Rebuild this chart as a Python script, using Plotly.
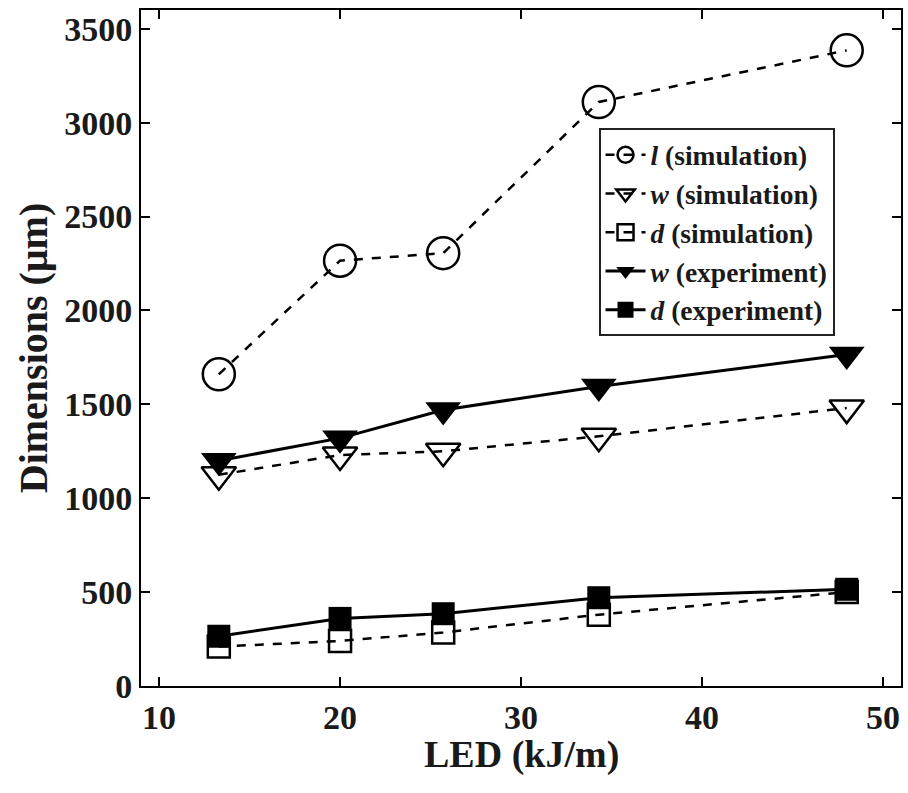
import plotly.graph_objects as go

led = [13.3, 20.0, 25.7, 34.3, 48.0]
l_sim = [1660, 2265, 2305, 3110, 3385]
w_sim = [1125, 1230, 1250, 1330, 1480]
d_sim = [210, 240, 285, 380, 500]
w_exp = [1200, 1320, 1470, 1595, 1765]
d_exp = [265, 360, 385, 470, 515]

x_ticks = [10, 20, 30, 40, 50]
y_ticks = [0, 500, 1000, 1500, 2000, 2500, 3000, 3500]

font_family = "Liberation Serif"
ink = "#1a1a1a"

fig = go.Figure()
fig.add_trace(go.Scatter(x=led, y=l_sim, mode="lines+markers", name="<i>l</i> (simulation)",
                         line=dict(color="black", width=2.5, dash="dash"),
                         marker=dict(symbol="circle-open", size=32, color="black", line=dict(width=2.5))))
fig.add_trace(go.Scatter(x=led, y=w_sim, mode="lines+markers", name="<i>w</i> (simulation)",
                         line=dict(color="black", width=2.5, dash="dash"),
                         marker=dict(symbol="triangle-down-open", size=30, color="black", line=dict(width=2.5))))
fig.add_trace(go.Scatter(x=led, y=d_sim, mode="lines+markers", name="<i>d</i> (simulation)",
                         line=dict(color="black", width=2.5, dash="dash"),
                         marker=dict(symbol="square-open", size=22, color="black", line=dict(width=2.5))))
fig.add_trace(go.Scatter(x=led, y=w_exp, mode="lines+markers", name="<i>w</i> (experiment)",
                         line=dict(color="black", width=3),
                         marker=dict(symbol="triangle-down", size=31, color="black")))
fig.add_trace(go.Scatter(x=led, y=d_exp, mode="lines+markers", name="<i>d</i> (experiment)",
                         line=dict(color="black", width=3),
                         marker=dict(symbol="square", size=23, color="black")))

axis_common = dict(showline=True, linecolor="black", linewidth=2, mirror="ticks",
                   ticks="inside", ticklen=9, tickwidth=1.5, tickcolor="black",
                   showgrid=False, zeroline=False,
                   tickfont=dict(family=font_family, size=34, color=ink, weight="bold"))

fig.update_layout(
    width=908, height=793,
    margin=dict(l=141, r=5, t=10, b=107),
    plot_bgcolor="white", paper_bgcolor="white",
    font=dict(family=font_family, color=ink),
    showlegend=True,
    legend=dict(x=0.602, y=0.825, xanchor="left", yanchor="top",
                bordercolor="#222222", borderwidth=2, bgcolor="white",
                font=dict(family=font_family, size=27.5, color=ink, weight="bold"),
                itemwidth=40, tracegroupgap=0),
    xaxis=dict(range=[9, 51], tickvals=x_ticks, **axis_common),
    yaxis=dict(range=[0, 3600], tickvals=y_ticks,
               title=dict(text="Dimensions (μm)", font=dict(size=40, family=font_family, weight="bold"), standoff=4),
               **axis_common),
    annotations=[dict(text="LED (kJ/m)", xref="paper", yref="paper", x=0.5, y=-0.101,
                      xanchor="center", yanchor="middle", showarrow=False,
                      font=dict(size=38, family=font_family, color=ink, weight="bold"))],
)

fig.write_html("out.html")
